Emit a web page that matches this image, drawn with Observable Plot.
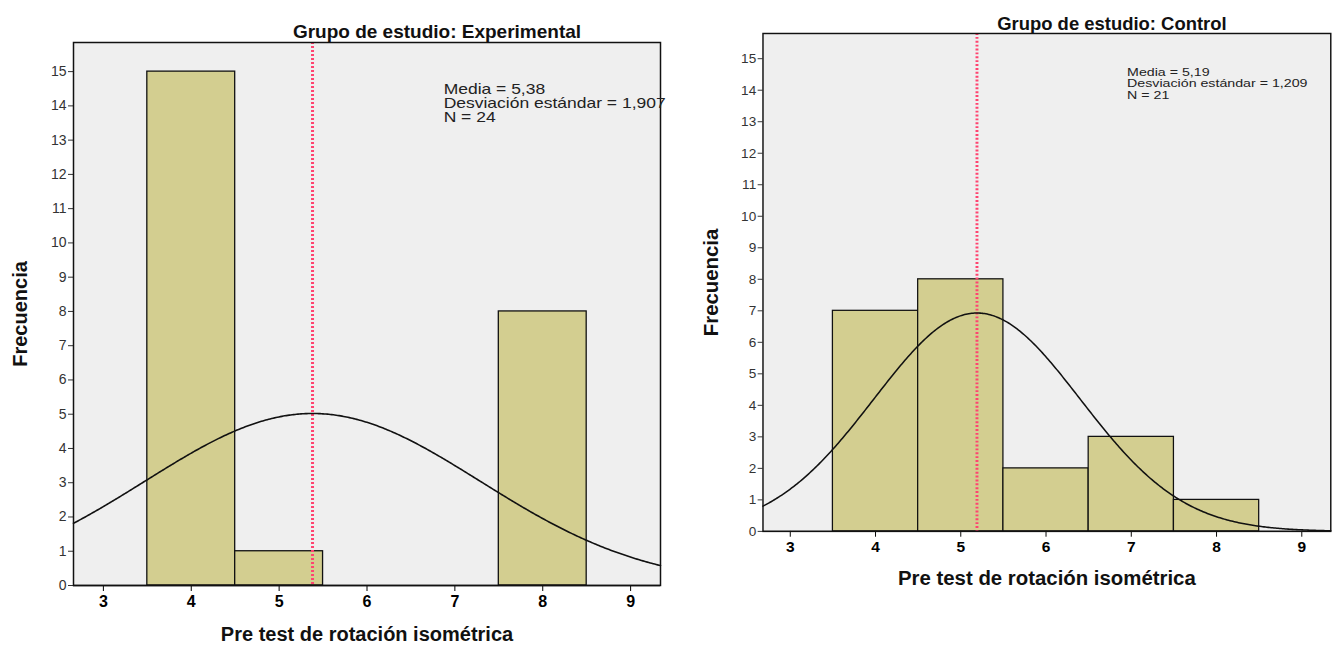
<!DOCTYPE html>
<html><head><meta charset="utf-8">
<script src="https://cdn.jsdelivr.net/npm/d3@7"></script>
<script src="https://cdn.jsdelivr.net/npm/@observablehq/plot@0.6"></script>
<style>
html,body{margin:0;padding:0;background:#fff}
body{width:1340px;height:648px;overflow:hidden;position:relative;font-family:"Liberation Sans",Arial,sans-serif}
#left{position:absolute;left:0;top:0}
#right{position:absolute;left:680px;top:0}
</style></head><body>
<div id="left"></div><div id="right"></div>
<script>
// ---- data ----
const binCenters = [4, 5, 6, 7, 8];
const expCounts = [15, 1, 0, 0, 8];
const ctlCounts = [7, 8, 2, 3, 1];
const groupTitles = ["Grupo de estudio: Experimental", "Grupo de estudio: Control"];
const means = [5.38, 5.19];
const sds = [1.907, 1.209];
const ns = [24, 21];
const meanLabels = ["5,38", "5,19"];
const sdLabels = ["1,907", "1,209"];
const xTicks = [3, 4, 5, 6, 7, 8, 9];
const yTicks = [0, 1, 2, 3, 4, 5, 6, 7, 8, 9, 10, 11, 12, 13, 14, 15];
const xLabel = "Pre test de rotación isométrica";
const yLabel = "Frecuencia";
const binWidth = 1;

function normalCurve(i, lo, hi) {
  const pts = [];
  for (let k = 0; k <= 400; k++) {
    const x = lo + (hi - lo) * k / 400;
    const z = (x - means[i]) / sds[i];
    pts.push({x, y: ns[i] * binWidth * Math.exp(-0.5 * z * z) / (sds[i] * Math.sqrt(2 * Math.PI))});
  }
  return pts;
}

function chart(i, counts, o) {
  const bars = binCenters.map((c, k) => ({x1: c - binWidth / 2, x2: c + binWidth / 2, y: counts[k]})).filter(d => d.y > 0);
  const stats = `Media = ${meanLabels[i]}\nDesviación estándar = ${sdLabels[i]}\nN = ${ns[i]}`;
  const svg = Plot.plot({
    width: o.width, height: 648,
    marginLeft: o.ml, marginRight: o.mr, marginTop: o.mt, marginBottom: o.mb,
    x: {domain: o.xdom},
    y: {domain: o.ydom},
    style: {fontFamily: "'Liberation Sans', Arial, sans-serif", background: "transparent", fontSize: "14px"},
    marks: [
      Plot.frame({fill: "#efefef", stroke: null}),
      Plot.rectY(bars, {x1: "x1", x2: "x2", y: "y", fill: "#d3ce90", stroke: "#111", strokeWidth: 1.3}),
      Plot.ruleX([means[i]], {stroke: "#ff4470", strokeWidth: 3, strokeDasharray: "2,2"}),
      Plot.line(normalCurve(i, o.xdom[0], o.xdom[1]), {x: "x", y: "y", stroke: "#111", strokeWidth: 1.6}),
      Plot.axisY({ticks: yTicks, tickFormat: d3.format("d"), tickSize: 5, tickPadding: 2, fontSize: 14, color: "#333", label: null}),
      Plot.axisX({ticks: xTicks, tickFormat: d3.format("d"), tickSize: 6, tickPadding: 4, fontSize: 15, fontWeight: "bold", label: null}),
      Plot.frame({stroke: "#111", strokeWidth: 1.5}),
      Plot.ruleY([0], {stroke: "#111", strokeWidth: 1.5}),
      Plot.text([groupTitles[i]], {frameAnchor: "top", lineAnchor: "middle", dx: o.titleDx, dy: o.titleDy, fontSize: 19, fontWeight: "bold", fill: "#111"}),
      Plot.text([stats], {frameAnchor: "top-left", dx: o.statDx, dy: o.statDy, textAnchor: "start", lineAnchor: "top", fontSize: o.statFs, lineHeight: 1, fill: "#222", className: "stats" + i}),
      Plot.text([xLabel], {frameAnchor: "bottom", lineAnchor: "middle", dy: o.xlabDy, fontSize: o.labFs, fontWeight: "bold", fill: "#111"}),
      Plot.text([yLabel], {frameAnchor: "left", textAnchor: "middle", lineAnchor: "middle", dx: -53, rotate: -90, fontSize: o.labFs, fontWeight: "bold", fill: "#111"})
    ]
  });
  // horizontally stretch the statistics block around its left edge (as in the original)
  const x0 = o.ml + o.statDx;
  const g = d3.select(svg).select(".stats" + i);
  const prev = g.attr("transform") || "";
  g.attr("transform", `translate(${x0},0) scale(${o.statScale},1) translate(${-x0},0) ${prev}`);
  // enforce tick label sizes
  d3.select(svg).selectAll('[aria-label="y-axis tick label"]').attr("font-size", 14).style("font-size", "14px");
  d3.select(svg).selectAll('[aria-label="x-axis tick label"]').attr("font-size", 16).style("font-size", "16px").attr("font-weight", "bold");
  return svg;
}

document.getElementById("left").append(chart(0, expCounts, {
  width: 670, ml: 73, mr: 10, mt: 42, mb: 63,
  xdom: [2.66, 9.34], ydom: [0, 15.85],
  titleDx: 70, titleDy: -11, statDx: 370, statDy: 42, statFs: 14, statScale: 1.25, labFs: 20, xlabDy: 49
}));
document.getElementById("right").append(chart(1, ctlCounts, {
  width: 680, ml: 85, mr: 10, mt: 34, mb: 101,
  xdom: [2.68, 9.34], ydom: [0, 15.8],
  titleDx: 67, titleDy: -10, statDx: 375, statDy: 35, statFs: 12, statScale: 1.22, labFs: 21, xlabDy: 49
}));
</script>
</body></html>
